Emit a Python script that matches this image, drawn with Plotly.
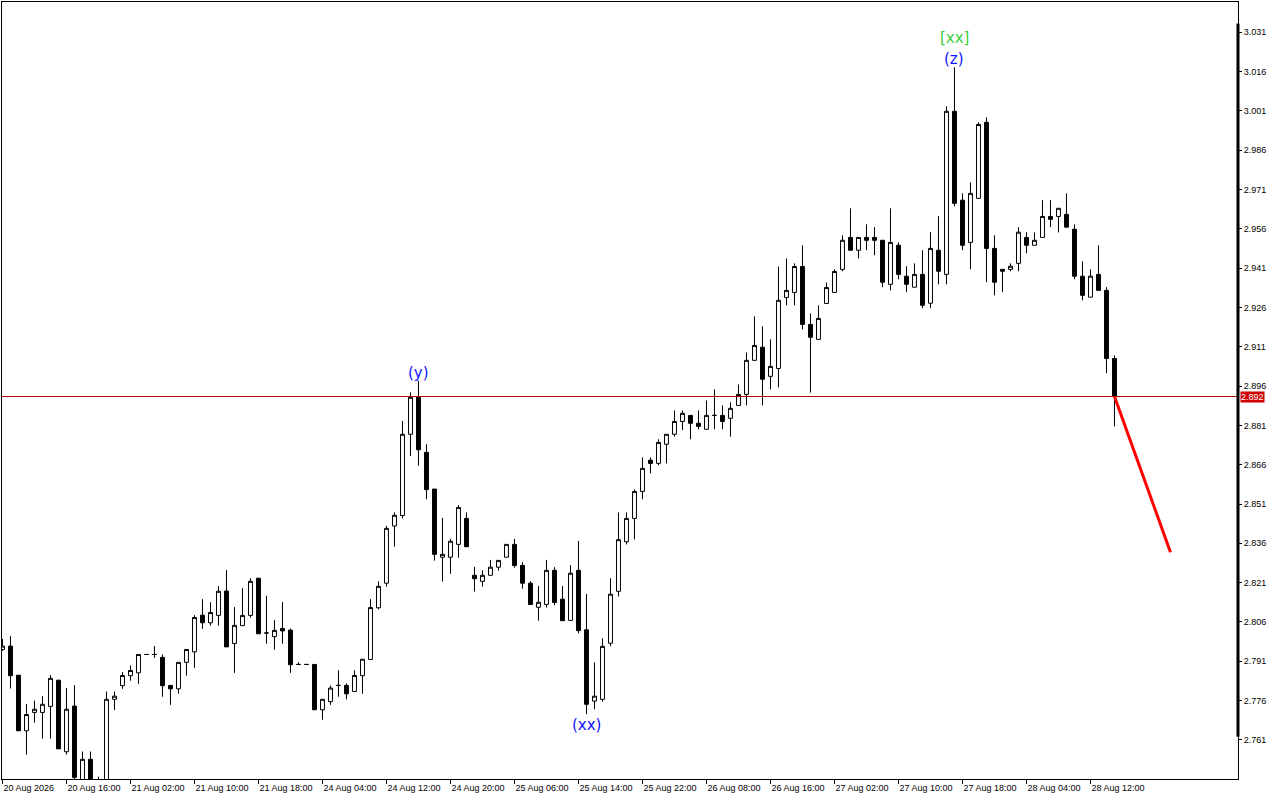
import plotly.graph_objects as go

# hourly bars (index = bar number from the left)
OPEN = [
    2.7955, 2.7968, 2.7857, 2.7645, 2.7715, 2.7715, 2.7738, 2.7838, 2.7565, 2.7739,
    2.7420, 2.7536, 2.7440, 2.7420, 2.7765, 2.7817, 2.7855, 2.7866, 2.7936, 2.7936,
    2.7925, 2.7818, 2.7805, 2.7906, 2.7946, 2.8086, 2.8057, 2.8085, 2.8178, 2.7978,
    2.8046, 2.8085, 2.8227, 2.8018, 2.8004, 2.8035, 2.8029, 2.7898, 2.7898, 2.7898,
    2.7725, 2.7756, 2.7818, 2.7818, 2.7795, 2.7855, 2.7917, 2.8114, 2.8208, 2.8426,
    2.8466, 2.8776, 2.8917, 2.8707, 2.8567, 2.8307, 2.8307, 2.8356, 2.8455, 2.8238,
    2.8215, 2.8238, 2.8269, 2.8307, 2.8356, 2.8276, 2.8208, 2.8116, 2.8127, 2.8257,
    2.8147, 2.8066, 2.8257, 2.8030, 2.7758, 2.7765, 2.7979, 2.8177, 2.8366, 2.8455,
    2.8558, 2.8677, 2.8665, 2.8738, 2.8776, 2.8825, 2.8848, 2.8818, 2.8795, 2.8848,
    2.8848, 2.8837, 2.8886, 2.8928, 2.9058, 2.9108, 2.8997, 2.9027, 2.9298, 2.9317,
    2.9416, 2.9195, 2.9138, 2.9275, 2.9317, 2.9405, 2.9527, 2.9478, 2.9527, 2.9527,
    2.9516, 2.9348, 2.9497, 2.9379, 2.9337, 2.9386, 2.9276, 2.9478, 2.9386, 3.0008,
    2.9669, 2.9508, 2.9676, 2.9966, 2.9485, 2.9405, 2.9405, 2.9428, 2.9527, 2.9497,
    2.9527, 2.9607, 2.9607, 2.9615, 2.9558, 2.9379, 2.9299, 2.9386, 2.9325, 2.9065,
]
HIGH = [
    2.7995, 2.8006, 2.7857, 2.7747, 2.7760, 2.7777, 2.7857, 2.7838, 2.7808, 2.7819,
    2.7566, 2.7566, 2.7470, 2.7795, 2.7795, 2.7869, 2.7894, 2.7936, 2.7937, 2.7968,
    2.7936, 2.7818, 2.7906, 2.7955, 2.8086, 2.8147, 2.8135, 2.8197, 2.8258, 2.8117,
    2.8189, 2.8227, 2.8227, 2.8160, 2.8067, 2.8136, 2.8035, 2.7906, 2.7898, 2.7898,
    2.7765, 2.7818, 2.7876, 2.7826, 2.7876, 2.7918, 2.8147, 2.8215, 2.8427, 2.8478,
    2.8827, 2.8936, 2.8980, 2.8738, 2.8567, 2.8457, 2.8377, 2.8506, 2.8478, 2.8270,
    2.8257, 2.8297, 2.8295, 2.8356, 2.8377, 2.8288, 2.8216, 2.8197, 2.8297, 2.8269,
    2.8197, 2.8277, 2.8369, 2.8167, 2.7906, 2.7998, 2.8227, 2.8478, 2.8478, 2.8566,
    2.8688, 2.8688, 2.8757, 2.8776, 2.8867, 2.8867, 2.8848, 2.8867, 2.8905, 2.8947,
    2.8886, 2.8898, 2.8966, 2.9088, 2.9226, 2.9188, 2.9138, 2.9416, 2.9447, 2.9428,
    2.9497, 2.9237, 2.9268, 2.9355, 2.9405, 2.9535, 2.9638, 2.9527, 2.9577, 2.9566,
    2.9516, 2.9638, 2.9508, 2.9417, 2.9428, 2.9478, 2.9547, 2.9608, 3.0027, 3.0176,
    2.9695, 2.9737, 2.9966, 2.9985, 2.9535, 2.9405, 2.9428, 2.9566, 2.9547, 2.9546,
    2.9669, 2.9669, 2.9638, 2.9695, 2.9577, 2.9436, 2.9405, 2.9497, 2.9337, 2.9077,
]
LOW = [
    2.7950, 2.7806, 2.7645, 2.7554, 2.7676, 2.7615, 2.7615, 2.7576, 2.7554, 2.7400,
    2.7400, 2.7400, 2.7400, 2.7400, 2.7724, 2.7805, 2.7836, 2.7824, 2.7935, 2.7923,
    2.7775, 2.7744, 2.7786, 2.7855, 2.7885, 2.8034, 2.8046, 2.8046, 2.7965, 2.7866,
    2.8046, 2.8076, 2.8015, 2.7977, 2.7954, 2.7977, 2.7866, 2.7898, 2.7898, 2.7725,
    2.7687, 2.7744, 2.7775, 2.7765, 2.7795, 2.7786, 2.7917, 2.8108, 2.8195, 2.8347,
    2.8455, 2.8693, 2.8656, 2.8528, 2.8294, 2.8214, 2.8244, 2.8305, 2.8347, 2.8176,
    2.8195, 2.8238, 2.8256, 2.8307, 2.8267, 2.8187, 2.8127, 2.8065, 2.8115, 2.8124,
    2.8065, 2.8066, 2.8017, 2.7708, 2.7727, 2.7756, 2.7967, 2.8157, 2.8356, 2.8375,
    2.8528, 2.8627, 2.8658, 2.8665, 2.8767, 2.8792, 2.8757, 2.8795, 2.8795, 2.8795,
    2.8795, 2.8767, 2.8886, 2.8886, 2.9058, 2.8886, 2.8947, 2.8955, 2.9268, 2.9268,
    2.9176, 2.8935, 2.9138, 2.9275, 2.9317, 2.9398, 2.9478, 2.9447, 2.9478, 2.9459,
    2.9337, 2.9325, 2.9367, 2.9318, 2.9337, 2.9257, 2.9257, 2.9348, 2.9348, 2.9646,
    2.9478, 2.9405, 2.9676, 2.9356, 2.9306, 2.9318, 2.9398, 2.9398, 2.9466, 2.9497,
    2.9527, 2.9566, 2.9546, 2.9566, 2.9367, 2.9287, 2.9299, 2.9325, 2.9009, 2.8806,
]
CLOSE = [
    2.7968, 2.7855, 2.7645, 2.7707, 2.7727, 2.7746, 2.7845, 2.7576, 2.7727, 2.7467,
    2.7536, 2.7420, 2.7430, 2.7765, 2.7777, 2.7856, 2.7875, 2.7936, 2.7936, 2.7936,
    2.7817, 2.7805, 2.7906, 2.7955, 2.8077, 2.8057, 2.8096, 2.8177, 2.7965, 2.8047,
    2.8085, 2.8215, 2.8015, 2.8018, 2.8028, 2.8026, 2.7897, 2.7898, 2.7898, 2.7725,
    2.7765, 2.7808, 2.7818, 2.7786, 2.7856, 2.7918, 2.8115, 2.8196, 2.8417, 2.8467,
    2.8776, 2.8917, 2.8717, 2.8565, 2.8318, 2.8318, 2.8368, 2.8497, 2.8347, 2.8225,
    2.8238, 2.8269, 2.8295, 2.8356, 2.8275, 2.8208, 2.8127, 2.8135, 2.8257, 2.8134,
    2.8065, 2.8246, 2.8027, 2.7746, 2.7777, 2.7967, 2.8166, 2.8374, 2.8455, 2.8558,
    2.8646, 2.8665, 2.8745, 2.8776, 2.8825, 2.8856, 2.8818, 2.8806, 2.8848, 2.8848,
    2.8825, 2.8875, 2.8928, 2.9058, 2.9115, 2.8986, 2.9035, 2.9287, 2.9325, 2.9416,
    2.9195, 2.9146, 2.9218, 2.9336, 2.9397, 2.9516, 2.9478, 2.9527, 2.9516, 2.9516,
    2.9356, 2.9508, 2.9386, 2.9348, 2.9386, 2.9268, 2.9485, 2.9398, 3.0008, 2.9657,
    2.9497, 2.9695, 2.9958, 2.9485, 2.9356, 2.9398, 2.9417, 2.9547, 2.9497, 2.9516,
    2.9607, 2.9596, 2.9638, 2.9566, 2.9379, 2.9306, 2.9379, 2.9325, 2.9065, 2.8920,
]
BARS = list(range(len(CLOSE)))

# time-axis labels, one every 8 bars
X_TICK_TEXT = [
    "20 Aug 2026", "20 Aug 16:00", "21 Aug 02:00", "21 Aug 10:00", "21 Aug 18:00",
    "24 Aug 04:00", "24 Aug 12:00", "24 Aug 20:00", "25 Aug 06:00", "25 Aug 14:00",
    "25 Aug 22:00", "26 Aug 08:00", "26 Aug 16:00", "27 Aug 02:00", "27 Aug 10:00",
    "27 Aug 18:00", "28 Aug 04:00", "28 Aug 12:00",
]
X_TICK_BARS = [8 * k for k in range(len(X_TICK_TEXT))]
Y_TICKS = [round(2.761 + 0.015 * k, 3) for k in range(19)]

# wave marks
WAVE_TEXT = ["(y)", "(xx)", "(z)", "[xx]"]
WAVE_BAR = [52, 73, 119, 119]
WAVE_SIDE = ["top", "bottom", "top", "top"]
WAVE_COLOR = ["#1010ff", "#1010ff", "#1010ff", "#3ccf3c"]

# forecast segment
FORECAST_X = [139, 146]
FORECAST_Y = [2.892, 2.8326]

LAST_PRICE = 2.892

FONT = "Liberation Sans"

fig = go.Figure()
fig.add_trace(go.Candlestick(
    x=BARS, open=OPEN, high=HIGH, low=LOW, close=CLOSE,
    increasing=dict(line=dict(color="black", width=1), fillcolor="white"),
    decreasing=dict(line=dict(color="black", width=1), fillcolor="black"),
    whiskerwidth=0,
    hoverinfo="skip",
))
fig.add_trace(go.Scatter(
    x=FORECAST_X, y=FORECAST_Y, mode="lines",
    line=dict(color="#ff0000", width=3), hoverinfo="skip",
))

fig.add_hline(y=LAST_PRICE, line=dict(color="#b00000", width=1))
fig.add_annotation(
    x=1, xref="paper", y=LAST_PRICE, yref="y", text=f"{LAST_PRICE:.3f}",
    showarrow=False, xanchor="left", xshift=2, bgcolor="#d00000",
    font=dict(family=FONT, size=9, color="white"), borderpad=0,
)
# thick marker bar on the price scale
fig.add_shape(
    type="line", xref="paper", x0=1, x1=1, yref="y", y0=2.7622, y1=3.0343,
    line=dict(color="black", width=3),
)

for text, bar, side, color in zip(WAVE_TEXT, WAVE_BAR, WAVE_SIDE, WAVE_COLOR):
    if side == "top":
        yv, anchor = HIGH[bar], "bottom"
        shift = 18 if text.startswith("[") else -3
    else:
        yv, anchor = LOW[bar], "top"
        shift = 0
    fig.add_annotation(
        x=bar, y=yv, text=text, showarrow=False, yanchor=anchor, yshift=shift,
        font=dict(family="DejaVu Sans", size=15, color=color),
    )

fig.update_layout(
    width=1280, height=800,
    margin=dict(l=2, r=42, t=2, b=21),
    paper_bgcolor="white", plot_bgcolor="white",
    showlegend=False,
    font=dict(family=FONT, size=9, color="black"),
    xaxis=dict(
        range=[-0.06, 154.44], rangeslider=dict(visible=False),
        tickmode="array", tickvals=X_TICK_BARS, ticktext=X_TICK_TEXT,
        ticks="outside", ticklen=4, tickcolor="black",
        ticklabelposition="outside right",
        showline=True, linecolor="black", linewidth=1, mirror=True,
        showgrid=False, zeroline=False,
    ),
    yaxis=dict(
        range=[2.7461, 3.0425], side="right",
        tickmode="array", tickvals=Y_TICKS, tickformat=".3f",
        ticks="outside", ticklen=3, tickcolor="black",
        showline=True, linecolor="black", linewidth=1, mirror=True,
        showgrid=False, zeroline=False,
    ),
)

# the page's default body margin would push the chart 8px off
fig.write_html(
    "out.html",
    config={"displayModeBar": False},
    post_script="document.body.style.margin='0';",
)
